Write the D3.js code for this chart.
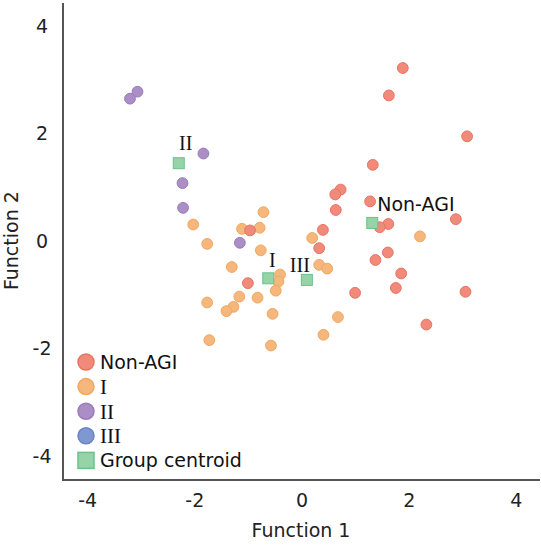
<!DOCTYPE html>
<html>
<head>
<meta charset="utf-8">
<script src="https://cdn.jsdelivr.net/npm/d3@7"></script>
<style>
  html, body { margin: 0; padding: 0; background: #fff; }
  svg { display: block; }
</style>
</head>
<body>
<svg id="chart" width="541" height="548"></svg>
<script>
// ---- Data ----
const nonAgi = [
  [1.89, 3.21], [1.63, 2.70], [3.09, 1.94], [1.33, 1.41], [0.73, 0.95],
  [0.63, 0.86], [1.28, 0.73], [0.64, 0.57], [2.88, 0.40], [1.62, 0.31],
  [1.46, 0.25], [0.40, 0.20], [0.33, -0.14], [1.61, -0.22], [1.38, -0.36],
  [1.86, -0.61], [1.76, -0.88], [1.00, -0.97], [3.06, -0.95], [2.33, -1.56],
  [-0.96, 0.19], [-1.00, -0.79]
];
const groupI = [
  [-0.71, 0.53], [-2.02, 0.30], [-1.11, 0.22], [-0.78, 0.24], [-1.76, -0.06],
  [-0.76, -0.18], [-1.30, -0.49], [-0.40, -0.63], [-0.43, -0.76], [-0.48, -0.93],
  [-1.16, -1.04], [-0.82, -1.06], [-1.76, -1.15], [-1.27, -1.23], [-1.40, -1.31],
  [-0.54, -1.36], [-1.72, -1.85], [-0.57, -1.95], [0.20, 0.05], [2.21, 0.08],
  [0.33, -0.45], [0.48, -0.52], [0.68, -1.42], [0.41, -1.75]
];
const groupII = [
  [-3.06, 2.77], [-3.20, 2.64], [-1.83, 1.62], [-2.22, 1.07], [-2.21, 0.61], [-1.15, -0.04]
];
const groupIII = [];
const centroidNames = ["Non-AGI", "I", "II", "III"];
const centroids = [[1.32, 0.33], [-0.62, -0.70], [-2.29, 1.44], [0.10, -0.73]];
const xTicks = [-4, -2, 0, 2, 4];
const yTicks = [-4, -2, 0, 2, 4];
const legendLabels = ["Non-AGI", "I", "II", "III", "Group centroid"];

// ---- Styles ----
const sans = "'DejaVu Sans', Verdana, sans-serif";
const serif = "'Liberation Serif', 'Times New Roman', serif";
const colors = {
  "Non-AGI": { fill: "#f28a7b", stroke: "#e8735f" },
  "I": { fill: "#f6b77c", stroke: "#f0a862" },
  "II": { fill: "#ab8ec6", stroke: "#9a7cb7" },
  "III": { fill: "#7f98d2", stroke: "#6a84c4" },
  "centroid": { fill: "#96d4a8", stroke: "#6cc08a" }
};
const isSerif = l => /^I+$/.test(l);
const fmt = d => String(d); // plain hyphen-minus like the reference

const svg = d3.select("#chart");
const x = d3.scaleLinear().domain([-4.45, 4.45]).range([63, 540]);
const y = d3.scaleLinear().domain([-4.45, 4.4]).range([480, 4]);

// axes (no tick marks)
const xAxis = d3.axisBottom(x).tickValues(xTicks).tickSize(0).tickPadding(14).tickFormat(fmt);
const yAxis = d3.axisLeft(y).tickValues(yTicks).tickSize(0).tickPadding(12).tickFormat(fmt);

const gx = svg.append("g").attr("transform", "translate(0,480)").call(xAxis);
gx.select(".domain").attr("stroke", "#555").attr("stroke-width", 2).attr("d", "M63,0H540");
gx.selectAll("text").attr("font-family", sans).attr("font-size", 19).attr("fill", "#222").attr("dy", "0.71em");

const gy = svg.append("g").attr("transform", "translate(63,0)").call(yAxis);
gy.select(".domain").attr("stroke", "#555").attr("stroke-width", 2).attr("d", "M0,3V481");
gy.selectAll("text").attr("font-family", sans).attr("font-size", 19).attr("fill", "#222")
  .attr("text-anchor", "middle").attr("x", -21).attr("dy", "0.35em");

// axis titles
svg.append("text").attr("x", 301).attr("y", 537).attr("text-anchor", "middle")
  .attr("font-family", sans).attr("font-size", 19).attr("fill", "#222").text("Function 1");
svg.append("text").attr("transform", `translate(18,${y(0)}) rotate(-90)`).attr("text-anchor", "middle")
  .attr("font-family", sans).attr("font-size", 19).attr("fill", "#222").text("Function 2");

// points
const series = [["I", groupI], ["II", groupII], ["III", groupIII], ["Non-AGI", nonAgi]];
series.forEach(([name, pts]) => {
  svg.append("g").selectAll("circle").data(pts).join("circle")
    .attr("cx", d => x(d[0])).attr("cy", d => y(d[1])).attr("r", 5.4)
    .attr("fill", colors[name].fill).attr("stroke", colors[name].stroke).attr("stroke-width", 1);
});

// centroids
svg.append("g").selectAll("rect").data(centroids).join("rect")
  .attr("x", d => x(d[0]) - 5.5).attr("y", d => y(d[1]) - 5.5)
  .attr("width", 11).attr("height", 11)
  .attr("fill", colors.centroid.fill).attr("stroke", colors.centroid.stroke).attr("stroke-width", 1);

// centroid labels
const labelOffsets = { "Non-AGI": [5, -12, "start"], "I": [4, -11, "middle"], "II": [7, -13, "middle"], "III": [-7, -8, "middle"] };
svg.append("g").selectAll("text").data(centroids).join("text")
  .attr("x", (d, i) => x(d[0]) + labelOffsets[centroidNames[i]][0])
  .attr("y", (d, i) => y(d[1]) + labelOffsets[centroidNames[i]][1])
  .attr("text-anchor", (d, i) => labelOffsets[centroidNames[i]][2])
  .attr("font-family", (d, i) => isSerif(centroidNames[i]) ? serif : sans)
  .attr("font-size", (d, i) => isSerif(centroidNames[i]) ? 20 : 19)
  .attr("fill", "#111")
  .text((d, i) => centroidNames[i]);

// legend
const leg = svg.append("g");
legendLabels.forEach((l, i) => {
  const cy = 362 + i * 24.6;
  if (l === "Group centroid") {
    leg.append("rect").attr("x", 78).attr("y", cy - 8).attr("width", 16).attr("height", 16)
      .attr("fill", colors.centroid.fill).attr("stroke", colors.centroid.stroke).attr("stroke-width", 1.5);
  } else {
    leg.append("circle").attr("cx", 86).attr("cy", cy).attr("r", 8)
      .attr("fill", colors[l].fill).attr("stroke", colors[l].stroke).attr("stroke-width", 1.5);
  }
  leg.append("text").attr("x", 100).attr("y", cy).attr("dy", "0.36em")
    .attr("font-family", isSerif(l) ? serif : sans)
    .attr("font-size", isSerif(l) ? 21 : 19)
    .attr("fill", "#111").text(l);
});
</script>
</body>
</html>
